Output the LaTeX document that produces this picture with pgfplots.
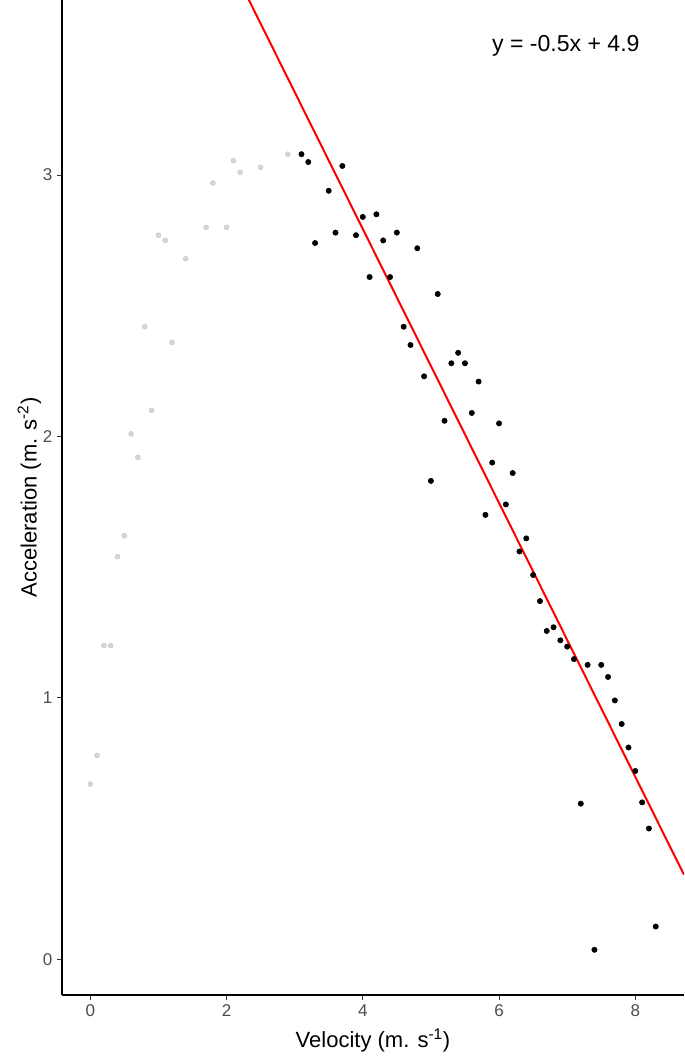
\documentclass[border=0pt]{standalone}
\usepackage{fontspec}
\setmainfont{Liberation Sans}
\usepackage{pgfplots}
\pgfplotsset{compat=1.18}

\definecolor{ticktext}{HTML}{4D4D4D}
\definecolor{fitred}{HTML}{FF0000}
\definecolor{earlygrey}{HTML}{D6D6D6}

% excluded early points (light grey)
\pgfplotstableread{
x y
0.0 0.67
0.1 0.78
0.2 1.20
0.3 1.20
0.4 1.54
0.5 1.62
0.6 2.01
0.7 1.92
0.8 2.42
0.9 2.10
1.0 2.77
1.1 2.75
1.2 2.36
1.4 2.68
1.7 2.80
1.8 2.97
2.0 2.80
2.1 3.055
2.2 3.01
2.5 3.03
2.9 3.08
}\earlypts

% points used in the fit (black)
\pgfplotstableread{
x y
3.1 3.08
3.2 3.05
3.3 2.74
3.5 2.94
3.6 2.78
3.7 3.035
3.9 2.77
4.0 2.84
4.1 2.61
4.2 2.85
4.3 2.75
4.4 2.61
4.5 2.78
4.6 2.42
4.7 2.35
4.8 2.72
4.9 2.23
5.0 1.83
5.1 2.545
5.2 2.06
5.3 2.28
5.4 2.32
5.5 2.28
5.6 2.09
5.7 2.21
5.8 1.70
5.9 1.90
6.0 2.05
6.1 1.74
6.2 1.86
6.3 1.56
6.4 1.61
6.5 1.47
6.6 1.37
6.7 1.256
6.8 1.27
6.9 1.22
7.0 1.196
7.1 1.148
7.2 0.595
7.3 1.126
7.4 0.036
7.5 1.126
7.6 1.08
7.7 0.99
7.8 0.90
7.9 0.81
8.0 0.72
8.1 0.60
8.2 0.50
8.3 0.125
}\fitpts

\begin{document}
\begin{tikzpicture}
\begin{axis}[
    scale only axis,
    width=466.5pt,
    height=746.25pt,
    xmin=-0.415, xmax=8.715,
    ymin=-0.137, ymax=3.67,
    xtick={0,2,4,6,8},
    ytick={0,1,2,3},
    axis lines=left,
    axis line style={-, line width=1.1pt, black},
    tick align=outside,
    major tick length=3.75pt,
    tick style={line width=0.8pt, black!80},
    /pgf/number format/assume math mode=true,
    tick label style={font=\fontsize{12.8}{15}\selectfont, text=ticktext},
    label style={font=\fontsize{16.5}{19}\selectfont},
    xlabel={Velocity (m. s\textsuperscript{-1})},
    ylabel={Acceleration (m. s\textsuperscript{-2})},
    xlabel style={at={([yshift=-39.5pt]axis description cs:0.5,0)}, anchor=base},
    ylabel style={at={([xshift=-19pt]axis description cs:0,0.5)}, anchor=base},
    clip=true,
]
\addplot[only marks, mark=*, mark size=1.9pt, mark options={fill=earlygrey, draw=gray!45, line width=0.3pt}]
    table[x=x, y=y] {\earlypts};
\addplot[only marks, mark=*, mark size=2pt, mark options={fill=black, draw=black}]
    table[x=x, y=y] {\fitpts};
\addplot[fitred, line width=1.5pt] coordinates {(2.0, 3.842) (8.715, 0.323)};
\node[font=\fontsize{17.3}{20}\selectfont] at (axis cs:6.98,3.495) {y = -0.5x + 4.9};
\end{axis}
\pgfresetboundingbox
\path (current axis.south west) ++(-46.5pt,-48.75pt) rectangle (current axis.north east);
\end{tikzpicture}
\end{document}
